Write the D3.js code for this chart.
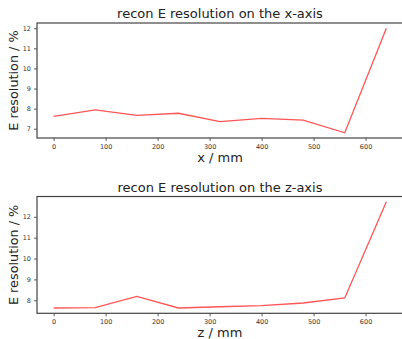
<!DOCTYPE html>
<html>
<head>
<meta charset="utf-8">
<script src="https://cdn.jsdelivr.net/npm/d3@7"></script>
<style>
  body { margin: 0; background: #fff; }
  text { font-family: "DejaVu Sans", sans-serif; fill: #222; }
</style>
</head>
<body>
<script>
// positions along each axis (mm)
var positions = [0, 80, 160, 240, 320, 400, 480, 560, 640];

// energy resolution in %
var resX = [7.62, 7.94, 7.67, 7.77, 7.35, 7.52, 7.43, 6.80, 12.0];
var resZ = [7.63, 7.65, 8.19, 7.63, 7.69, 7.74, 7.87, 8.11, 12.72];

var xTicks = [0, 100, 200, 300, 400, 500, 600];
var yTicksX = [7, 8, 9, 10, 11, 12];
var yTicksZ = [8, 9, 10, 11, 12];

var width = 402, height = 339;

var svg = d3.select("body").append("svg")
    .attr("width", width)
    .attr("height", height);

// matplotlib style 5% margins
function padded(ext) {
    let m = (ext[1] - ext[0]) * 0.05;
    return [ext[0] - m, ext[1] + m];
}

function draw_panel(top, bottom, values, yTicks, title, xlabel) {
    let left = 37, right = 403;

    let x = d3.scaleLinear().domain(padded(d3.extent(positions))).range([left, right]);
    let y = d3.scaleLinear().domain(padded(d3.extent(values))).range([bottom, top]);

    let g = svg.append("g");

    // axes
    let xAxis = g.append("g")
        .attr("transform", `translate(0,${bottom})`)
        .call(d3.axisBottom(x).tickValues(xTicks).tickFormat(d3.format("d")).tickSize(3).tickPadding(3));
    let yAxis = g.append("g")
        .attr("transform", `translate(${left},0)`)
        .call(d3.axisLeft(y).tickValues(yTicks).tickFormat(d3.format("d")).tickSize(3).tickPadding(3));

    [xAxis, yAxis].forEach(a => {
        a.select(".domain").remove();
        a.selectAll(".tick line").attr("stroke", "#333").attr("stroke-width", 0.8);
        a.selectAll(".tick text").style("font-size", "6.5px").style("fill", "#333");
    });

    // spines
    g.append("rect")
        .attr("x", left).attr("y", top)
        .attr("width", right - left).attr("height", bottom - top)
        .attr("fill", "none")
        .attr("stroke", "#444")
        .attr("stroke-width", 1.2);

    // line
    let line = d3.line()
        .x((d, i) => x(positions[i]))
        .y(d => y(d));

    g.append("path")
        .datum(values)
        .attr("d", line)
        .attr("fill", "none")
        .attr("stroke", "#ff2a2a")
        .attr("stroke-opacity", 0.8)
        .attr("stroke-width", 1.3);

    // texts
    g.append("text")
        .attr("x", 220).attr("y", top - 5)
        .attr("text-anchor", "middle")
        .style("font-size", "13px")
        .text(title);

    g.append("text")
        .attr("x", 220).attr("y", bottom + 24)
        .attr("text-anchor", "middle")
        .style("font-size", "13px")
        .text(xlabel);

    g.append("text")
        .attr("transform", `translate(18,${(top + bottom) / 2}) rotate(-90)`)
        .attr("text-anchor", "middle")
        .style("font-size", "12.8px")
        .text("E resolution / %");
}

draw_panel(23, 138, resX, yTicksX, "recon E resolution on the x-axis", "x / mm");
draw_panel(196.5, 313.3, resZ, yTicksZ, "recon E resolution on the z-axis", "z / mm");
</script>
</body>
</html>
